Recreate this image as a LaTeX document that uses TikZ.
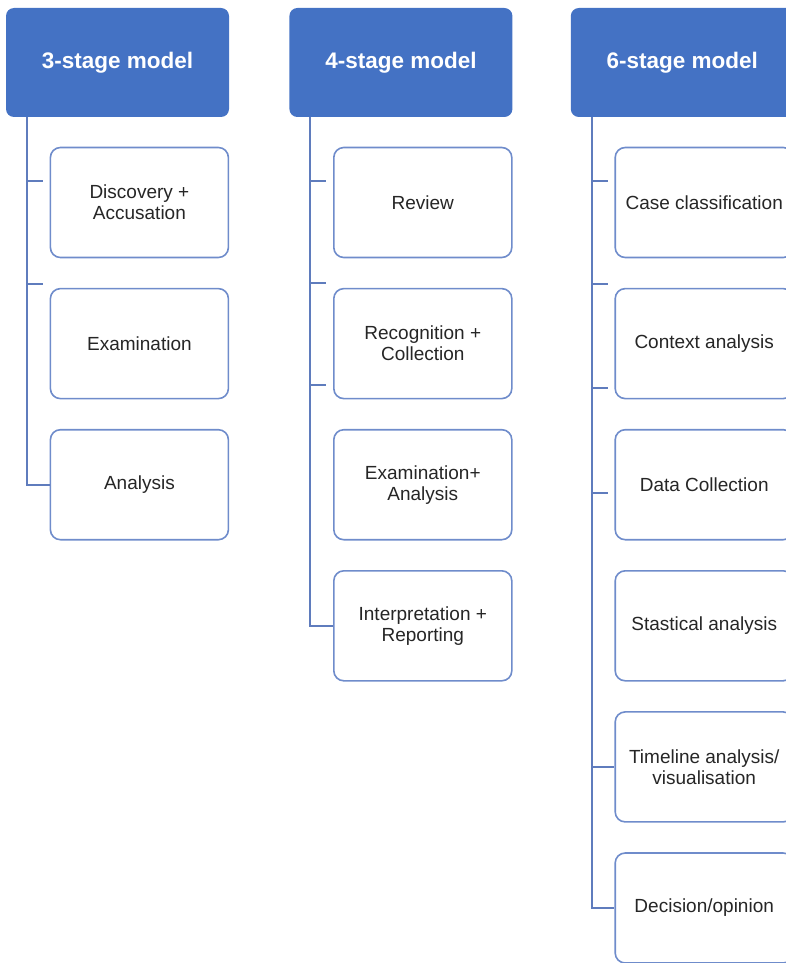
\documentclass[tikz,border=0pt]{standalone}
\usepackage{fontspec}
\setmainfont{Liberation Sans}
\usetikzlibrary{positioning}
\definecolor{headblue}{HTML}{4472C4}
\definecolor{boxline}{HTML}{6F8CCB}
\definecolor{linkline}{HTML}{5F7CBD}
\definecolor{textgray}{HTML}{262626}

\begin{document}
\begin{tikzpicture}[node distance=29.5pt, x=1pt, y=1pt]
\tikzstyle{every node}=[font=\fontsize{19}{21}\selectfont]
\tikzstyle{head}=[fill=headblue, rounded corners=8, minimum width=223, minimum height=109, text=white, font=\fontsize{22.5}{26}\selectfont\bfseries]
\tikzstyle{stage}=[draw=boxline, line width=1.6, fill=white, rounded corners=10, minimum width=178, minimum height=110, align=center, text=textgray]
\tikzstyle{link}=[draw=linkline, line width=1.8]
\useasboundingbox (0,0) rectangle (786,-963);
\clip (0,0) rectangle (786,-963);

% headers
\path node[head] at (117.5,-62.5) (h3) {3-stage model};
\path node[head, right=60pt of h3] (h4) {4-stage model};
\path node[head, right=58pt of h4] (h6) {6-stage model};

% 3-stage
\path node[stage, below=of h3.south east, anchor=north east] (d3) {Discovery +\\Accusation};
\path node[stage, below=of d3] (e3) {Examination};
\path node[stage, below=of e3] (a3) {Analysis};
\coordinate[right=21pt of h3.south west] (t3);
\path[link] (t3) |- (a3.west);
\foreach \d in {64,167} \path[link] ([yshift=-\d]t3) -- ++(16,0);

% 4-stage
\path node[stage, below=of h4.south east, anchor=north east] (r4) {Review};
\path node[stage, below=of r4] (c4) {Recognition +\\Collection};
\path node[stage, below=of c4] (x4) {Examination+\\Analysis};
\path node[stage, below=of x4] (i4) {Interpretation +\\Reporting};
\coordinate[right=21pt of h4.south west] (t4);
\path[link] (t4) |- (i4.west);
\foreach \d in {64,166,268} \path[link] ([yshift=-\d]t4) -- ++(16,0);

% 6-stage
\path node[stage, below=of h6.south east, anchor=north east] (cc6) {Case classification};
\path node[stage, below=of cc6] (ca6) {Context analysis};
\path node[stage, below=of ca6] (dc6) {Data Collection};
\path node[stage, below=of dc6] (sa6) {Stastical analysis};
\path node[stage, below=of sa6] (tl6) {Timeline analysis/\\visualisation};
\path node[stage, below=of tl6] (do6) {Decision/opinion};
\coordinate[right=21pt of h6.south west] (t6);
\path[link] (t6) |- (do6.west);
\path[link] (t6 |- tl6.west) -- (tl6.west);
\foreach \d in {64,167,271,376} \path[link] ([yshift=-\d]t6) -- ++(16,0);
\end{tikzpicture}
\end{document}
